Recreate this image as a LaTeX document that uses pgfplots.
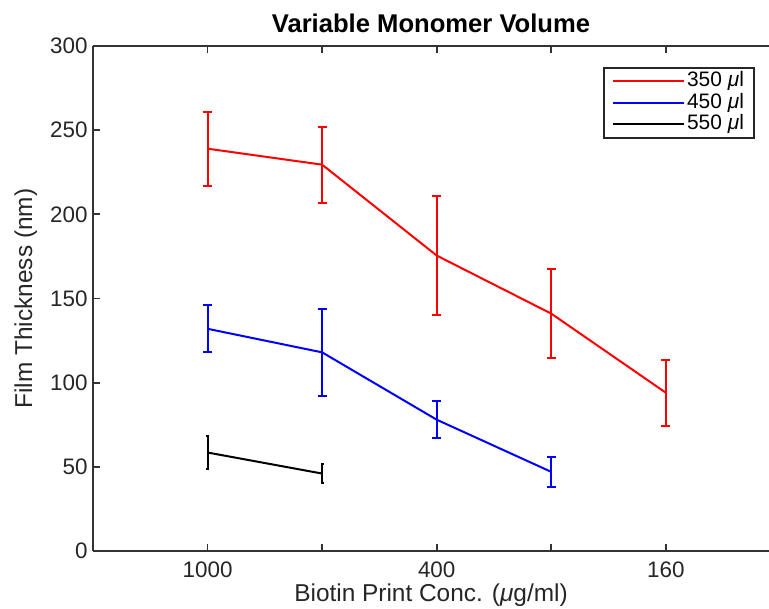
\documentclass[border=0pt]{standalone}
\usepackage{pgfplots}
\pgfplotsset{compat=1.18}
\usepackage{fontspec}
\setmainfont{Liberation Sans}
\usetikzlibrary{calc}
\definecolor{mred}{RGB}{255,0,0}
\definecolor{mblue}{RGB}{0,0,255}
\begin{document}
\begin{tikzpicture}
\begin{axis}[
  scale only axis,
  width=676bp, height=505bp,
  xmin=0, xmax=5.9, ymin=0, ymax=300,
  axis x line*=box, axis y line*=left,
  axis line style={line width=1.8bp, black!80},
  xtick={1,2,3,4,5},
  xticklabels={1000,,400,,160},
  ytick={0,50,...,300},
  tick style={line width=1.8bp, black!80},
  major tick length=7bp,
  tick align=inside,
  /pgf/number format/assume math mode=true,
  ticklabel style={font=\fontsize{22.5}{24}\selectfont, text=black!85},
  xticklabel style={yshift=-7bp},
  yticklabel style={xshift=-2bp},
  xlabel={Biotin Print Conc. (\textit{μ}g/ml)},
  ylabel={Film Thickness (nm)},
  label style={font=\fontsize{24.5}{26}\selectfont, text=black!85},
  xlabel style={yshift=0bp},
  ylabel style={yshift=6bp},
  title={\textbf{Variable Monomer Volume}},
  title style={font=\fontsize{25.7}{27}\selectfont, yshift=4bp},
  legend style={at={(0.979,0.958)}, anchor=north east, draw=black!85, line width=1.8bp,
    font=\fontsize{21}{21}\selectfont, row sep=0bp, inner xsep=8bp, inner ysep=2.5bp,
    nodes={inner ysep=1bp, inner xsep=2bp, text height=15bp, text depth=4.5bp}},
  legend cell align=left,
  legend image code/.code={\draw[#1] (0bp,0bp) -- (71bp,0bp);},
  error bars/error bar style={line width=2bp},
  error bars/error mark options={rotate=90, mark size=4.5bp, line width=2bp},
]
\addplot[mred, line width=2bp, error bars/.cd, y dir=both, y explicit] coordinates {
  (1,239) +- (0,22)
  (2,229.5) +- (0,22.5)
  (3,175.5) +- (0,35.5)
  (4,141) +- (0,26.5)
  (5,94) +- (0,19.5)
};
\addlegendentry{350 \textit{μ}l}
\addplot[mblue, line width=2bp, error bars/.cd, y dir=both, y explicit] coordinates {
  (1,132) +- (0,14)
  (2,118) +- (0,26)
  (3,78) +- (0,11)
  (4,47) +- (0,9)
};
\addlegendentry{450 \textit{μ}l}
\addplot[black, line width=2bp, error bars/.cd, y dir=both, y explicit,
  error mark options={rotate=90, mark size=1.5bp, line width=2bp}] coordinates {
  (1,58.5) +- (0,10)
  (2,46) +- (0,5.5)
};
\addlegendentry{550 \textit{μ}l}
\end{axis}
\pgfresetboundingbox
\useasboundingbox ($(current axis.south west)+(-93bp,-58bp)$) rectangle ($(current axis.north east)+(0bp,46bp)$);
\end{tikzpicture}
\end{document}
